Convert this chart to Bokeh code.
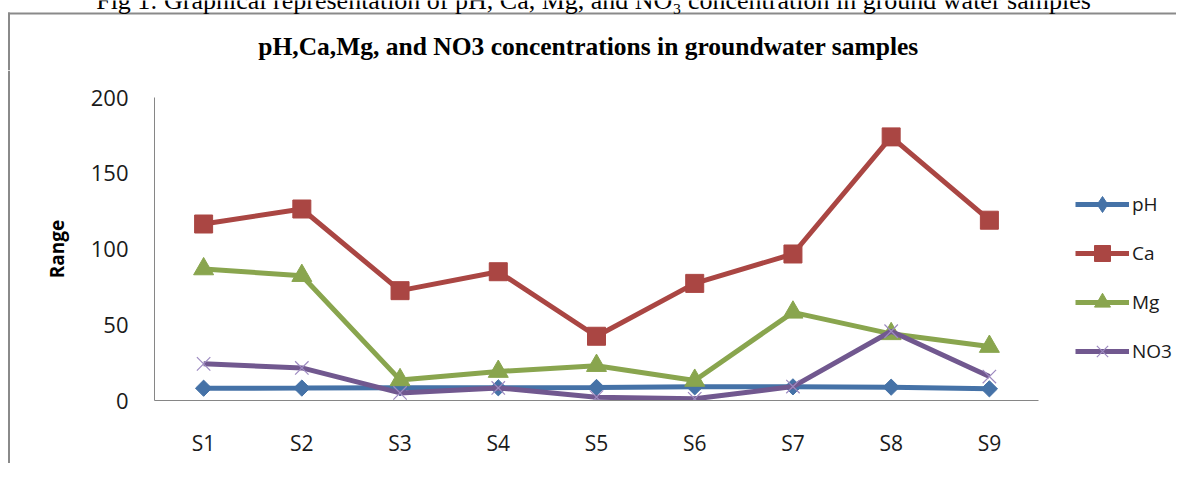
import math
from bokeh.plotting import figure
from bokeh.models import (Range1d, FixedTicker, Label, BoxAnnotation, Legend, LegendItem,
                          ColumnDataSource)
from bokeh.layouts import column, row
from bokeh.embed import file_html
from bokeh.resources import INLINE

# ---- data ----
samples = ["S1", "S2", "S3", "S4", "S5", "S6", "S7", "S8", "S9"]
ph_vals = [8.1, 8.2, 8.4, 8.4, 8.6, 9.0, 9.0, 8.8, 7.7]
ca_vals = [116.5, 126.4, 72.5, 85.0, 42.4, 77.3, 96.7, 174.0, 119.0]
mg_vals = [86.8, 82.4, 13.6, 19.1, 23.0, 13.2, 58.2, 44.0, 35.6]
no3_vals = [24.2, 21.5, 5.0, 8.3, 2.2, 1.1, 9.2, 45.7, 15.8]
y_ticks = [0, 50, 100, 150, 200]

caption_text = "Fig 1: Graphical representation of pH, Ca, Mg, and NO\u2083 concentration in ground water samples"
title_text = "pH,Ca,Mg, and NO3 concentrations in groundwater samples"
y_label_text = "Range"

BORDER = "#8a8a8a"
TOTAL_W, TOTAL_H = 1176, 463
HEAD_H = 70
MAIN_H = TOTAL_H - HEAD_H
STRIP_W = 10
LEG_W = 128
MAIN_W = TOTAL_W - STRIP_W - LEG_W


def bare_figure(w, h, xr, yr):
    f = figure(width=w, height=h, output_backend="svg", toolbar_location=None,
               x_range=xr, y_range=yr, x_axis_location=None, y_axis_location=None,
               min_border=0)
    f.outline_line_color = None
    f.xgrid.visible = False
    f.ygrid.visible = False
    f.frame_align = False
    return f


# ---------- header: caption (cut at top), outer frame line, chart title ----------
head = bare_figure(TOTAL_W, HEAD_H, Range1d(0, TOTAL_W), Range1d(HEAD_H, 0))
head.add_layout(BoxAnnotation(left=7.5, right=TOTAL_W, top=12, bottom=14,
                              fill_color=BORDER, fill_alpha=1, line_color=None))
head.add_layout(BoxAnnotation(left=7.5, right=9.5, top=12, bottom=HEAD_H,
                              fill_color=BORDER, fill_alpha=1, line_color=None))
head.add_layout(Label(x=593, y=0, text=caption_text, text_align="center",
                      text_baseline="alphabetic", text_font="Liberation Serif",
                      text_font_size="26px", text_color="black"))
head.add_layout(Label(x=588, y=46, text=title_text, text_align="center",
                      text_baseline="alphabetic", text_font="Liberation Serif",
                      text_font_size="25.5px", text_font_style="bold", text_color="black"))

# ---------- left frame line ----------
strip = bare_figure(STRIP_W, MAIN_H, Range1d(0, STRIP_W), Range1d(MAIN_H, 0))
strip.add_layout(BoxAnnotation(left=7.5, right=9.5, top=0, bottom=MAIN_H,
                               fill_color=BORDER, fill_alpha=1, line_color=None))

# ---------- main chart ----------
FL, FR, FT, FB = 144, 1028, 27, 330  # frame box in main-canvas px
p = figure(width=MAIN_W, height=MAIN_H, output_backend="svg", toolbar_location=None,
           x_range=Range1d(0.5, len(samples) + 0.5), y_range=Range1d(0, 200),
           min_border_left=FL, min_border_right=MAIN_W - FR,
           min_border_top=FT, min_border_bottom=MAIN_H - FB)
p.frame_align = False
p.outline_line_color = None
p.xgrid.visible = False
p.ygrid.visible = False

xs = list(range(1, len(samples) + 1))

p.xaxis.ticker = FixedTicker(ticks=xs)
p.xaxis.major_label_overrides = {i + 1: s for i, s in enumerate(samples)}
p.yaxis.ticker = FixedTicker(ticks=y_ticks)
for ax in (p.xaxis, p.yaxis):
    ax.major_tick_out = 0
    ax.major_tick_in = 0
    ax.minor_tick_out = 0
    ax.minor_tick_in = 0
    ax.axis_line_color = "#868686"
    ax.major_label_text_font = "Open Sans"
    ax.major_label_text_color = "#1a1a1a"
p.xaxis.major_label_standoff = 28
p.xaxis.major_label_text_font_size = "21px"
p.yaxis.major_label_standoff = 26
p.yaxis.major_label_text_font_size = "22px"

p.yaxis.axis_label = y_label_text
p.yaxis.axis_label_text_font = "Open Sans"
p.yaxis.axis_label_text_font_size = "19px"
p.yaxis.axis_label_text_font_style = "bold"
p.yaxis.axis_label_text_color = "black"
p.yaxis.axis_label_standoff = 18

series = [
    # name, values, colour, plot marker, size, angle, legend marker, marker line colour
    ("pH", ph_vals, "#4572A7", "square", 11.5, math.pi / 4, "diamond", None),
    ("Ca", ca_vals, "#AA4643", "square", 18, 0, "square", None),
    ("Mg", mg_vals, "#89A54E", "triangle", 20, 0, "triangle", None),
    ("NO3", no3_vals, "#71588F", "x", 19, 0, "x", "#9d8ac0"),
]

# ---------- legend panel (own canvas, so that nothing clips it) ----------
leg = bare_figure(LEG_W, MAIN_H, Range1d(-100, -99), Range1d(-100, -99))

items = []
for name, vals, color, marker, size, ang, lmarker, mcol in series:
    src = ColumnDataSource(dict(x=xs, y=vals))
    p.line("x", "y", source=src, line_color=color, line_width=5)
    if marker == "x":
        p.scatter("x", "y", source=src, marker=marker, size=size,
                  line_color=mcol, line_width=1.2)
    else:
        p.scatter("x", "y", source=src, marker=marker, size=size, angle=ang,
                  fill_color=color, line_color=color, line_width=1)
    # legend keys for the same series
    l1 = leg.line("x", "y", source=src, line_color=color, line_width=5)
    if lmarker == "x":
        l2 = leg.scatter("x", "y", source=src, marker=lmarker, size=size,
                         line_color=mcol, line_width=1.2)
    else:
        l2 = leg.scatter("x", "y", source=src, marker=lmarker, size=size,
                         fill_color=color, line_color=color, line_width=1)
    items.append(LegendItem(label=name, renderers=[l1, l2]))

legend = Legend(items=items, location=(27, 92), orientation="vertical",
                glyph_width=54, glyph_height=40, spacing=9, padding=0, margin=0,
                label_standoff=3, label_text_font="Open Sans", label_text_font_size="19px",
                label_text_color="#1a1a1a", label_height=20,
                border_line_color=None, background_fill_alpha=0)
leg.add_layout(legend, "center")

page = column(head, row(strip, p, leg))
open("out.html", "w").write(file_html(page, INLINE))
